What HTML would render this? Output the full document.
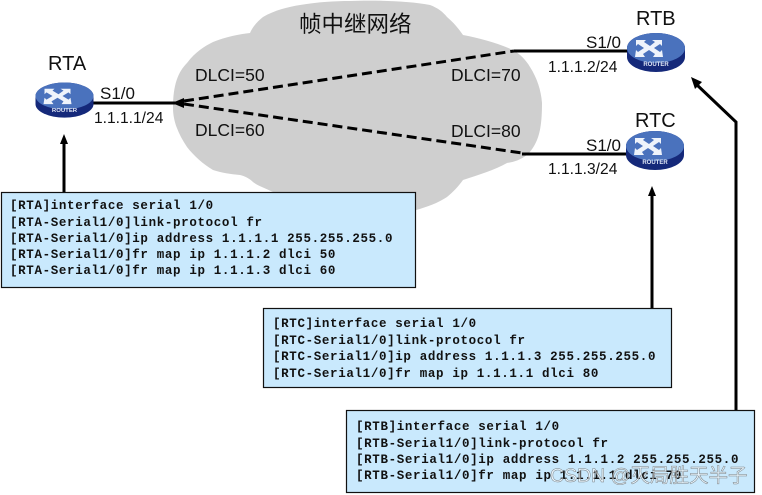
<!DOCTYPE html>
<html>
<head>
<meta charset="utf-8">
<style>
html,body{margin:0;padding:0;background:#fff;width:762px;height:495px;overflow:hidden}
svg{display:block}
.s{font-family:"Liberation Sans",sans-serif;fill:#111}
.m{font-family:"Liberation Mono",monospace;font-weight:bold;font-size:12.5px;fill:#111;letter-spacing:.65px;white-space:pre}
.bx{fill:#c9e9fd;stroke:#111;stroke-width:1.2}
</style>
</head>
<body>
<svg width="762" height="495" viewBox="0 0 762 495" xmlns="http://www.w3.org/2000/svg">
<defs>
<g id="r">
<path d="M-29 0a29 15 0 0 1 58 0v9a29 15 0 0 1-58 0z" fill="#15297a"/>
<ellipse cx="0" cy="0" rx="29" ry="15" fill="#4a72bd"/>
<path d="M-20-8h10l-2 2 6 4 5-4-3-2h10l0 6-2-2-6 4 6 4 2-2 1 7h-10l2-3-6-4-6 4 2 3h-10l1-7 2 2 6-4-6-4-2 2z" fill="#eef3fb"/>
<text x="0" y="18" text-anchor="middle" font-family="Liberation Sans,sans-serif" font-size="6" font-weight="bold" fill="#dfe6f5">ROUTER</text>
</g>
</defs>
<rect width="762" height="495" fill="#fff"/>
<path d="M173 108C173 85 178 72 187 63C195 52 205 46 213 42C225 37 240 34 250 33C253 26 258 21 263 17C275 10 288 7 300 5C318 2 335 1 350 1C375 0 410 1 430 5C438 8 443 12 447 17C453 22 459 29 463 35C480 38 500 44 513 50C520 54 526 60 530 67C537 78 541 90 542 103C542 118 541 130 537 140C534 147 531 151 527 155C520 160 514 162 507 163C495 170 478 175 463 180C458 187 453 192 447 197C438 203 427 207 416 210C390 216 320 216 273 192C267 189 258 186 253 182C250 179 245 176 240 175C230 174 222 173 213 170C203 164 194 156 187 147C179 135 173 122 173 108Z" fill="#cfcfcf"/>
<line x1="90" y1="103" x2="176" y2="103" stroke="#000" stroke-width="3"/>
<path d="M172 103L184 98V108Z" fill="#000"/>
<path d="M184 101L514 51" stroke="#000" stroke-width="3" stroke-dasharray="10 5" fill="none"/>
<path d="M184 104L522 153" stroke="#000" stroke-width="3" stroke-dasharray="10 5" fill="none"/>
<line x1="514" y1="51" x2="630" y2="51" stroke="#000" stroke-width="3"/>
<line x1="522" y1="154" x2="630" y2="154" stroke="#000" stroke-width="3"/>
<use href="#r" transform="translate(64.5 96) scale(1 .9)"/>
<use href="#r" x="656" y="48"/>
<use href="#r" x="655" y="146"/>
<line x1="64" y1="143" x2="64" y2="193" stroke="#000" stroke-width="3"/>
<path d="M64 134L60 144H68Z" fill="#000"/>
<line x1="652" y1="195" x2="652" y2="308" stroke="#000" stroke-width="3"/>
<path d="M652 186L648 196H656Z" fill="#000"/>
<path d="M736 410V122L696 84" stroke="#000" stroke-width="3" fill="none"/>
<path d="M691 77L702 82L695 89Z" fill="#000"/>
<text class="s" x="299" y="32" font-size="22.5" style="font-family:'Liberation Sans','Noto Sans CJK SC',sans-serif" fill="#222">帧中继网络</text>
<text class="s" x="48" y="70" font-size="20">RTA</text>
<text class="s" x="636" y="25" font-size="20">RTB</text>
<text class="s" x="635" y="127" font-size="20">RTC</text>
<text class="s" x="100" y="99" font-size="17">S1/0</text>
<text class="s" x="586" y="48" font-size="17">S1/0</text>
<text class="s" x="586" y="151" font-size="17">S1/0</text>
<text class="s" x="94" y="123" font-size="15.6" fill="#333">1.1.1.1/24</text>
<text class="s" x="548" y="72" font-size="15.6" fill="#333">1.1.1.2/24</text>
<text class="s" x="548" y="174" font-size="15.6" fill="#333">1.1.1.3/24</text>
<text class="s" x="195" y="81" font-size="17.5">DLCI=50</text>
<text class="s" x="195" y="136" font-size="17.5">DLCI=60</text>
<text class="s" x="451" y="81" font-size="17.5">DLCI=70</text>
<text class="s" x="451" y="137" font-size="17.5">DLCI=80</text>
<rect class="bx" x="1.5" y="192.5" width="414" height="95"/>
<text class="m" x="10" y="209">[RTA]interface serial 1/0</text>
<text class="m" x="10" y="226">[RTA-Serial1/0]link-protocol fr</text>
<text class="m" x="10" y="242">[RTA-Serial1/0]ip address 1.1.1.1 255.255.255.0</text>
<text class="m" x="10" y="258">[RTA-Serial1/0]fr map ip 1.1.1.2 dlci 50</text>
<text class="m" x="10" y="274">[RTA-Serial1/0]fr map ip 1.1.1.3 dlci 60</text>
<rect class="bx" x="263.5" y="308.5" width="408" height="79"/>
<text class="m" x="273" y="327">[RTC]interface serial 1/0</text>
<text class="m" x="273" y="344">[RTC-Serial1/0]link-protocol fr</text>
<text class="m" x="273" y="360">[RTC-Serial1/0]ip address 1.1.1.3 255.255.255.0</text>
<text class="m" x="273" y="377">[RTC-Serial1/0]fr map ip 1.1.1.1 dlci 80</text>
<rect class="bx" x="346.5" y="410.5" width="408" height="82"/>
<text class="m" x="356" y="430">[RTB]interface serial 1/0</text>
<text class="m" x="356" y="447">[RTB-Serial1/0]link-protocol fr</text>
<text class="m" x="356" y="463">[RTB-Serial1/0]ip address 1.1.1.2 255.255.255.0</text>
<text class="m" x="356" y="479">[RTB-Serial1/0]fr map ip 1.1.1.1 dlci 70</text>
<text x="550" y="482" font-size="19.5" fill="#fff" fill-opacity=".55" stroke="#666" stroke-width=".5" stroke-opacity=".8" style="font-family:'Liberation Sans','Noto Sans CJK SC',sans-serif">CSDN @灭局胜天半子</text>
</svg>
</body>
</html>
